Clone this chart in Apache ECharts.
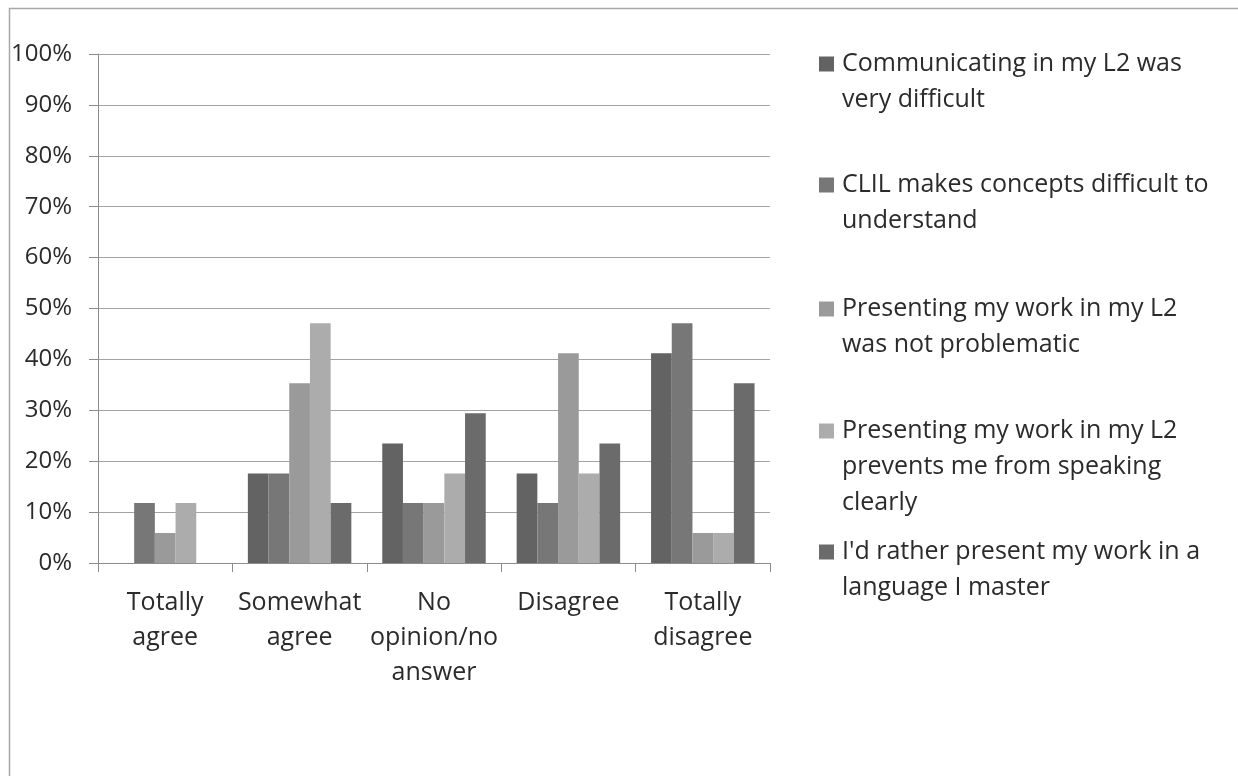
<!DOCTYPE html>
<html>
<head>
<meta charset="utf-8">
<script src="https://cdn.jsdelivr.net/npm/echarts@6/dist/echarts.min.js"></script>
<style>html,body{margin:0;padding:0;background:#fff;}#c{width:1238px;height:776px;}</style>
</head>
<body>
<div id="c"></div>
<script>
const categories = ['Totally\nagree', 'Somewhat\nagree', 'No\nopinion/no\nanswer', 'Disagree', 'Totally\ndisagree'];
const seriesNames = [
  'Communicating in my L2 was very difficult',
  'CLIL makes concepts difficult to understand',
  'Presenting my work in my L2 was not problematic',
  'Presenting my work in my L2 prevents me from speaking clearly',
  "I'd rather present my work in a language I master"
];
const legendLines = [
  ['Communicating in my L2 was', 'very difficult'],
  ['CLIL makes concepts difficult to', 'understand'],
  ['Presenting my work in my L2', 'was not problematic'],
  ['Presenting my work in my L2', 'prevents me from speaking', 'clearly'],
  ["I'd rather present my work in a", 'language I master']
];
const s1 = [0, 17.6, 23.5, 17.6, 41.2];
const s2 = [11.8, 17.6, 11.8, 11.8, 47.1];
const s3 = [5.9, 35.3, 11.8, 41.2, 5.9];
const s4 = [11.8, 47.1, 17.6, 17.6, 5.9];
const s5 = [0, 11.8, 29.4, 23.5, 35.3];
const seriesData = [s1, s2, s3, s4, s5];
const colors = ['#636363', '#777777', '#9a9a9a', '#acacac', '#6b6b6b'];
const legendTops = [41, 162, 286, 408, 529];

const FONT = 'Open Sans';
const chart = echarts.init(document.getElementById('c'), null, {renderer: 'canvas'});

const rich = {
  t: {fontFamily: FONT, fontSize: 25, color: '#2b2b2b', lineHeight: 36},
  gap: {width: 8, height: 14},
  ind: {width: 23, height: 14}
};
colors.forEach((c, i) => { rich['sq' + i] = {width: 15, height: 15, backgroundColor: c}; });

const legends = seriesNames.map((n, i) => ({
  orient: 'vertical',
  left: 809,
  top: legendTops[i],
  data: [n],
  selectedMode: false,
  itemWidth: 0,
  itemHeight: 0,
  icon: 'rect',
  formatter: function (name) {
    const idx = seriesNames.indexOf(name);
    return legendLines[idx].map((l, k) => (k === 0 ? '{sq' + idx + '|}{gap|}' : '{ind|}') + '{t|' + l + '}').join('\n');
  },
  textStyle: {rich: rich, lineHeight: 36}
}));

const option = {
  backgroundColor: '#ffffff',
  animation: false,
  color: colors,
  graphic: [{
    type: 'rect',
    shape: {x: 9.5, y: 8.5, width: 1300, height: 800},
    style: {fill: 'none', stroke: '#a8a8a8', lineWidth: 1.5},
    silent: true
  }],
  legend: legends,
  grid: {left: 98, right: 468, top: 54, bottom: 213, containLabel: false},
  xAxis: {
    type: 'category',
    data: categories,
    axisLine: {lineStyle: {color: '#8c8c8c', width: 1}},
    axisTick: {show: true, length: 9, lineStyle: {color: '#8c8c8c'}},
    axisLabel: {fontFamily: FONT, fontSize: 25, color: '#2b2b2b', lineHeight: 35, margin: 22, interval: 0}
  },
  yAxis: {
    type: 'value',
    min: 0, max: 100, interval: 10,
    axisLine: {show: true, lineStyle: {color: '#8c8c8c', width: 1}},
    axisTick: {show: true, length: 9, lineStyle: {color: '#8c8c8c'}},
    splitLine: {lineStyle: {color: '#a3a3a3', width: 1.2}},
    axisLabel: {fontFamily: FONT, fontSize: 24, color: '#2b2b2b', margin: 26, formatter: '{value}%'}
  },
  series: seriesNames.map((n, i) => ({
    name: n,
    type: 'bar',
    data: seriesData[i],
    barGap: '0%',
    barCategoryGap: '23%',
    itemStyle: {color: colors[i]}
  }))
};
chart.setOption(option);
</script>
</body>
</html>
